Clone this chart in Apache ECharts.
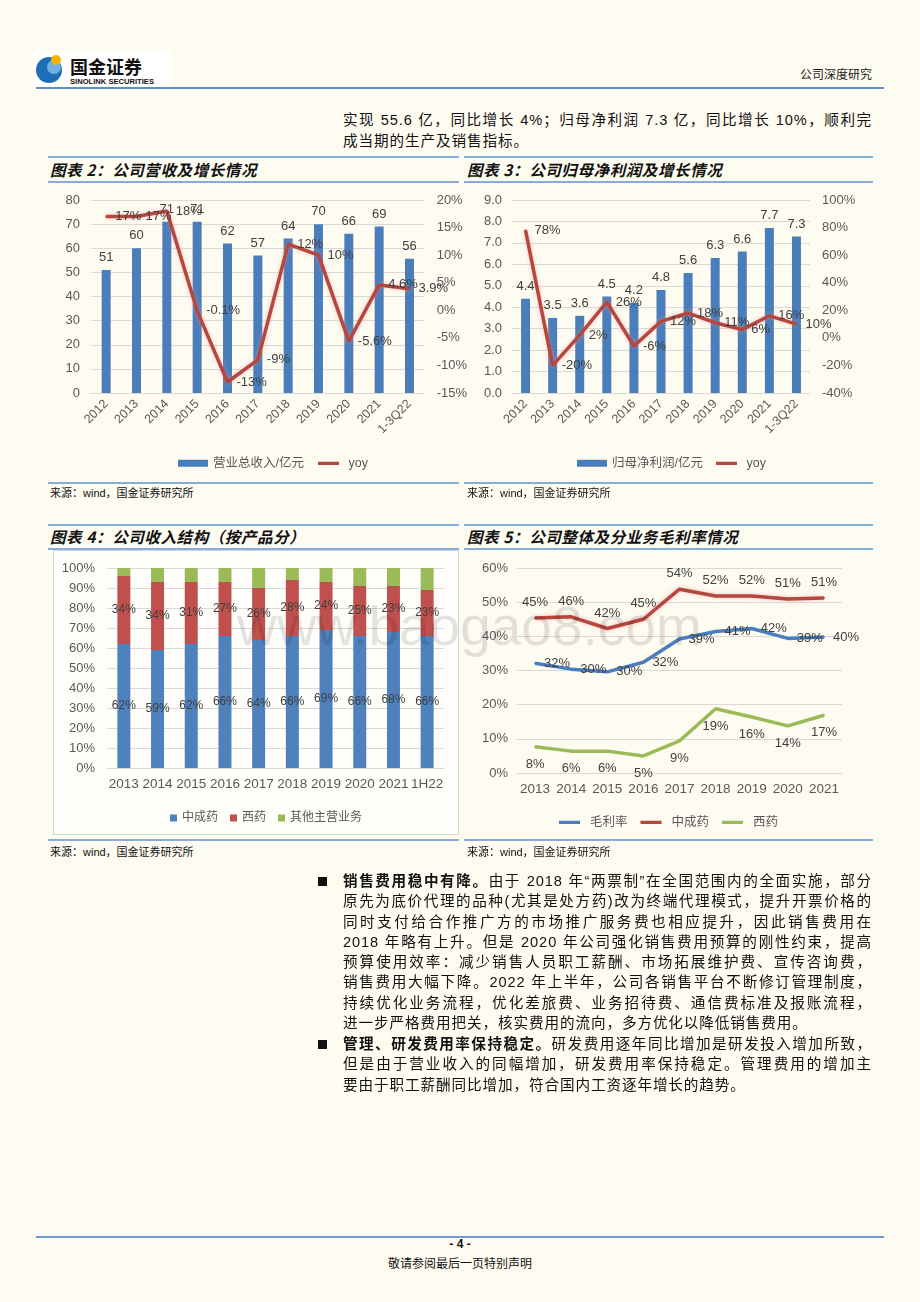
<!DOCTYPE html>
<html><head><meta charset="utf-8">
<script src="https://cdn.jsdelivr.net/npm/echarts@6.0.0/dist/echarts.min.js"></script>
<style>
html,body{margin:0;padding:0;}
body{width:920px;height:1302px;background:#FEFBF1;position:relative;overflow:hidden;font-family:"Liberation Sans","Noto Sans CJK SC",sans-serif;color:#111;}
.abs{position:absolute;}
.hl{position:absolute;height:2px;background:#86ABDC;}
.title{position:absolute;font-family:"Noto Sans CJK SC",sans-serif;font-weight:bold;font-style:italic;font-size:15.5px;letter-spacing:0.6px;color:#111;line-height:20px;}
.src{position:absolute;font-family:"Liberation Sans","Noto Sans CJK SC",sans-serif;font-size:11px;color:#111;line-height:14px;}
.para{position:absolute;left:343px;width:529px;font-size:14.6px;line-height:20.3px;letter-spacing:0.9px;}
.para div{white-space:nowrap;}
.para div.jl{text-align:justify;text-align-last:justify;white-space:normal;}
.bul{position:absolute;left:318px;width:9px;height:9px;background:#111;}
.chart{position:absolute;}
</style></head>
<body>

<!-- header -->
<div class="abs" style="left:35px;top:51px;width:136px;height:35px;background:#fff;"></div>
<svg class="abs" style="left:35px;top:50px" width="140" height="38">
  <circle cx="14" cy="20" r="13" fill="#1F6DB5"/>
  <circle cx="19" cy="17" r="7" fill="#6FB1E6"/>
  <circle cx="21" cy="10" r="5" fill="#F4B400"/>
  <text x="35" y="24" font-size="18" font-weight="bold" font-family="Noto Sans CJK SC" fill="#111">国金证券</text>
  <text x="35" y="34" font-size="7.6" font-weight="bold" font-family="Liberation Sans" fill="#111">SINOLINK SECURITIES</text>
</svg>
<div class="abs" style="right:48px;top:65px;font-family:'Noto Sans CJK SC';font-size:12px;color:#222;">公司深度研究</div>
<div class="hl" style="left:36px;top:87px;width:848px;background:#5F8FCB;"></div>

<div class="para" style="top:110px;line-height:21px;">
  <div class="jl">实现 55.6 亿，同比增长 4%；归母净利润 7.3 亿，同比增长 10%，顺利完</div>
  <div>成当期的生产及销售指标。</div>
</div>

<!-- chart 2/3 titles -->
<div class="hl" style="left:48px;top:156px;width:411px;"></div>
<div class="hl" style="left:464px;top:156px;width:409px;"></div>
<div class="title" style="left:50px;top:159px;">图表 2：公司营收及增长情况</div>
<div class="title" style="left:467px;top:159px;">图表 3：公司归母净利润及增长情况</div>
<div class="hl" style="left:48px;top:181px;width:411px;"></div>
<div class="hl" style="left:464px;top:181px;width:409px;"></div>

<div id="c2" class="chart" style="left:40px;top:185px;width:430px;height:295px;"></div>
<div id="c3" class="chart" style="left:460px;top:185px;width:420px;height:295px;"></div>

<div class="hl" style="left:48px;top:482px;width:411px;"></div>
<div class="hl" style="left:464px;top:482px;width:409px;"></div>
<div class="src" style="left:50px;top:486px;">来源：wind，国金证券研究所</div>
<div class="src" style="left:467px;top:486px;">来源：wind，国金证券研究所</div>

<!-- chart 4/5 titles -->
<div class="hl" style="left:48px;top:524px;width:411px;"></div>
<div class="hl" style="left:464px;top:524px;width:409px;"></div>
<div class="title" style="left:50px;top:526px;">图表 4：公司收入结构（按产品分）</div>
<div class="title" style="left:467px;top:526px;">图表 5：公司整体及分业务毛利率情况</div>
<div class="hl" style="left:48px;top:548px;width:411px;"></div>
<div class="hl" style="left:464px;top:548px;width:409px;"></div>

<div class="abs" style="left:53px;top:550px;width:404px;height:283px;background:#FFFEFA;border:1px solid #D6D6D6;"></div>
<div id="c4" class="chart" style="left:54px;top:551px;width:404px;height:283px;"></div>
<div id="c5" class="chart" style="left:460px;top:550px;width:420px;height:290px;"></div>

<div class="hl" style="left:48px;top:839px;width:411px;"></div>
<div class="hl" style="left:464px;top:839px;width:409px;"></div>
<div class="src" style="left:50px;top:845px;">来源：wind，国金证券研究所</div>
<div class="src" style="left:467px;top:845px;">来源：wind，国金证券研究所</div>

<!-- watermark -->
<div class="abs" style="left:237px;top:594px;font-family:'Liberation Sans';font-size:55px;color:rgba(0,0,0,0.11);pointer-events:none;white-space:nowrap;">www.baogao8.com</div>

<!-- body text -->
<div class="bul" style="top:877px;"></div>
<div class="para" style="top:871px;">
  <div class="jl"><b>销售费用稳中有降。</b>由于 2018 年“两票制”在全国范围内的全面实施，部分</div>
  <div class="jl">原先为底价代理的品种(尤其是处方药)改为终端代理模式，提升开票价格的</div>
  <div class="jl">同时支付给合作推广方的市场推广服务费也相应提升，因此销售费用在</div>
  <div class="jl">2018 年略有上升。但是 2020 年公司强化销售费用预算的刚性约束，提高</div>
  <div class="jl">预算使用效率：减少销售人员职工薪酬、市场拓展维护费、宣传咨询费，</div>
  <div class="jl">销售费用大幅下降。2022 年上半年，公司各销售平台不断修订管理制度，</div>
  <div class="jl">持续优化业务流程，优化差旅费、业务招待费、通信费标准及报账流程，</div>
  <div>进一步严格费用把关，核实费用的流向，多方优化以降低销售费用。</div>
</div>
<div class="bul" style="top:1040px;"></div>
<div class="para" style="top:1034px;">
  <div class="jl"><b>管理、研发费用率保持稳定。</b>研发费用逐年同比增加是研发投入增加所致，</div>
  <div class="jl">但是由于营业收入的同幅增加，研发费用率保持稳定。管理费用的增加主</div>
  <div>要由于职工薪酬同比增加，符合国内工资逐年增长的趋势。</div>
</div>

<!-- footer -->
<div class="hl" style="left:36px;top:1236px;width:848px;background:#6F9AD0;"></div>
<div class="abs" style="left:0;width:920px;top:1237px;text-align:center;font-size:12px;font-weight:bold;">- 4 -</div>
<div class="abs" style="left:0;width:920px;top:1254px;text-align:center;font-family:'Noto Sans CJK SC';font-size:12px;">敬请参阅最后一页特别声明</div>

<script>
// ---------- data ----------
const revCats = ['2012','2013','2014','2015','2016','2017','2018','2019','2020','2021','1-3Q22'];
const revenue = [51, 60, 71, 71, 62, 57, 64, 70, 66, 69, 55.6];
const revYoy = [17, 17, 18, -0.1, -13, -9, 12, 10, -5.6, 4.6, 3.9];

const profitCats = ['2012','2013','2014','2015','2016','2017','2018','2019','2020','2021','1-3Q22'];
const netProfit = [4.4, 3.5, 3.6, 4.5, 4.2, 4.8, 5.6, 6.3, 6.6, 7.7, 7.3];
const profitYoy = [78, -20, 2, 26, -6, 12, 18, 11, 6, 16, 10];

const mixCats = ['2013','2014','2015','2016','2017','2018','2019','2020','2021','1H22'];
const mixTcm = [62, 59, 62, 66, 64, 66, 69, 66, 68, 66];
const mixWestern = [34, 34, 31, 27, 26, 28, 24, 25, 23, 23];
const mixOther = [4, 7, 7, 7, 10, 6, 7, 9, 9, 11];

const gmCats = ['2013','2014','2015','2016','2017','2018','2019','2020','2021'];
const gmTotal = [32.1, 30.4, 29.6, 32.4, 39.2, 41.4, 42.3, 39.4, 39.8];
const gmTcm = [45.4, 45.7, 42.3, 45.0, 53.8, 51.8, 51.8, 50.9, 51.2];
const gmWestern = [7.7, 6.4, 6.4, 5.0, 9.4, 18.8, 16.4, 13.8, 16.9];

// ---------- styles ----------
const FONT = '"Liberation Sans", Arial, "Noto Sans CJK SC", sans-serif';
const AX = '#595959';
const GRIDC = '#D9D9D9';
const LBL = '#404040';
const BLUE = '#4A7EBB';
const RED = '#B5473F';
const GREEN = '#9BBB59';
const glow = {shadowColor:'rgba(235,150,150,0.55)', shadowBlur:4};
// legend icon: thick horizontal stroke (invisible hairline fixes the box height)
const LINE_ICON = 'path://M0,0h0.01v10h-0.01z M0,3h30v4.4h-30z';

function legendText(){ return {fontSize:12.5, color:AX, fontFamily:FONT}; }
function lineSeries(name, data, color, yIdx, pos, dist, fmt, withGlow){
  return {name:name, type:'line', yAxisIndex:yIdx, data:data, z:5,
    symbol:'circle', symbolSize:2, showSymbol:true,
    itemStyle:{color:color}, lineStyle:Object.assign({color:color, width:3.5}, withGlow?glow:{}),
    label:{show:true, position:pos, distance:dist, fontSize:13, color:LBL, formatter:fmt}};
}

// ---------- chart 2 ----------
echarts.init(document.getElementById('c2')).setOption({
  animation:false,
  textStyle:{fontFamily:FONT},
  grid:{left:51, right:45, top:15, bottom:87},
  legend:{left:133, top:267, itemWidth:30, itemHeight:7, itemGap:14, textStyle:legendText(),
    data:[{name:'营业总收入/亿元', icon:'rect'}, {name:'yoy', icon:LINE_ICON}]},
  xAxis:{type:'category', data:revCats, axisTick:{show:false},
    axisLine:{lineStyle:{color:GRIDC}},
    axisLabel:{rotate:45, interval:0, margin:9, fontSize:12.5, color:AX}},
  yAxis:[
    {type:'value', min:0, max:80, interval:10, axisLabel:{margin:11, fontSize:13, color:AX},
     splitLine:{lineStyle:{color:GRIDC}}, axisLine:{show:false}, axisTick:{show:false}},
    {type:'value', min:-15, max:20, interval:5, axisLabel:{margin:12, fontSize:13, color:AX, formatter:'{value}%'},
     splitLine:{show:false}, axisLine:{show:false}, axisTick:{show:false}}
  ],
  series:[
    {name:'营业总收入/亿元', type:'bar', data:revenue, barWidth:9, itemStyle:{color:BLUE},
     label:{show:true, position:'top', distance:6, fontSize:13, color:LBL, formatter:p=>Math.round(p.value)}},
    lineSeries('yoy', revYoy, RED, 1, 'right', 8, p=>p.value+'%', true)
  ]
});

// ---------- chart 3 ----------
echarts.init(document.getElementById('c3')).setOption({
  animation:false,
  textStyle:{fontFamily:FONT},
  grid:{left:52, right:70, top:15, bottom:87},
  legend:{left:112, top:267, itemWidth:30, itemHeight:7, itemGap:13, textStyle:legendText(),
    data:[{name:'归母净利润/亿元', icon:'rect'}, {name:'yoy', icon:LINE_ICON}]},
  xAxis:{type:'category', data:profitCats, axisTick:{show:false},
    axisLine:{lineStyle:{color:GRIDC}},
    axisLabel:{rotate:45, interval:0, margin:9, fontSize:12.5, color:AX}},
  yAxis:[
    {type:'value', min:0, max:9, interval:1, axisLabel:{margin:10, fontSize:13, color:AX, formatter:v=>v.toFixed(1)},
     splitLine:{lineStyle:{color:GRIDC}}, axisLine:{show:false}, axisTick:{show:false}},
    {type:'value', min:-40, max:100, interval:20, axisLabel:{margin:12, fontSize:13, color:AX, formatter:'{value}%'},
     splitLine:{show:false}, axisLine:{show:false}, axisTick:{show:false}}
  ],
  series:[
    {name:'归母净利润/亿元', type:'bar', data:netProfit, barWidth:9, itemStyle:{color:BLUE},
     label:{show:true, position:'top', distance:6, fontSize:13, color:LBL, formatter:p=>p.value.toFixed(1)}},
    lineSeries('yoy', profitYoy, RED, 1, 'right', 8, p=>p.value+'%', true)
  ]
});

// ---------- chart 4 ----------
const inLabel = {show:true, position:'inside', fontSize:12, color:LBL, formatter:p=>p.value+'%'};
echarts.init(document.getElementById('c4')).setOption({
  animation:false,
  textStyle:{fontFamily:FONT},
  grid:{left:53, right:14, top:17, bottom:66},
  legend:{left:111, top:256, icon:'rect', itemWidth:7, itemHeight:7, itemGap:12, textStyle:{fontSize:12, color:AX, fontFamily:FONT},
    data:['中成药','西药','其他主营业务']},
  xAxis:{type:'category', data:mixCats, axisTick:{show:false},
    axisLine:{lineStyle:{color:GRIDC}},
    axisLabel:{interval:0, margin:10, fontSize:13.5, color:AX}},
  yAxis:{type:'value', min:0, max:100, interval:10, axisLabel:{margin:12, fontSize:13, color:AX, formatter:'{value}%'},
    splitLine:{lineStyle:{color:GRIDC}}, axisLine:{show:false}, axisTick:{show:false}},
  series:[
    {name:'中成药', type:'bar', stack:'s', data:mixTcm, barWidth:13, itemStyle:{color:'#4F81BD'}, label:inLabel},
    {name:'西药', type:'bar', stack:'s', data:mixWestern, barWidth:13, itemStyle:{color:'#C0504D'}, label:inLabel},
    {name:'其他主营业务', type:'bar', stack:'s', data:mixOther, barWidth:13, itemStyle:{color:GREEN}}
  ]
});

// ---------- chart 5 ----------
const pct = p=>Math.round(p.value)+'%';
echarts.init(document.getElementById('c5')).setOption({
  animation:false,
  textStyle:{fontFamily:FONT},
  grid:{left:57, right:38, top:18, bottom:67},
  legend:{left:94, top:261, itemWidth:31, itemHeight:7, itemGap:13, textStyle:legendText(),
    data:[{name:'毛利率', icon:LINE_ICON}, {name:'中成药', icon:LINE_ICON}, {name:'西药', icon:LINE_ICON}]},
  xAxis:{type:'category', data:gmCats, axisTick:{show:false},
    axisLine:{lineStyle:{color:GRIDC}},
    axisLabel:{interval:0, margin:10, fontSize:13.5, color:AX}},
  yAxis:{type:'value', min:0, max:60, interval:10, axisLabel:{margin:9, fontSize:13, color:AX, formatter:'{value}%'},
    splitLine:{lineStyle:{color:GRIDC}}, axisLine:{show:false}, axisTick:{show:false}},
  series:[
    lineSeries('毛利率', gmTotal, '#4A7EC0', 0, 'right', 8, pct, false),
    lineSeries('中成药', gmTcm, RED, 0, 'top', 8, pct, true),
    lineSeries('西药', gmWestern, GREEN, 0, 'bottom', 10, pct, false)
  ]
});
</script>
</body></html>
